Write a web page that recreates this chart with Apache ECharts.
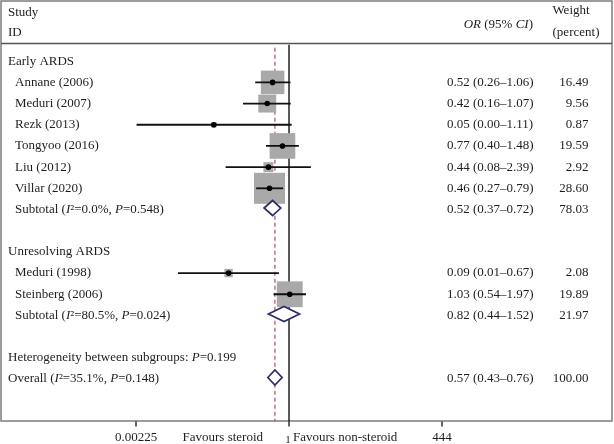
<!DOCTYPE html>
<html><head><meta charset="utf-8">
<script src="https://cdn.jsdelivr.net/npm/echarts@6/dist/echarts.min.js"></script>
<style>html,body{margin:0;padding:0;background:#fff}#c{width:614px;height:444px}</style>
</head><body><div id="c"></div>
<script>
// ---------- data ----------
const rowLabels = [
  'Early ARDS', 'Annane (2006)', 'Meduri (2007)', 'Rezk (2013)', 'Tongyoo (2016)', 'Liu (2012)', 'Villar (2020)',
  'Subtotal ({i|I}²=0.0%, {i|P}=0.548)', '',
  'Unresolving ARDS', 'Meduri (1998)', 'Steinberg (2006)',
  'Subtotal ({i|I}²=80.5%, {i|P}=0.024)', '',
  'Heterogeneity between subgroups: {i|P}=0.199', 'Overall ({i|I}²=35.1%, {i|P}=0.148)'
];
const rowIndent = [0, 1, 1, 1, 1, 1, 1, 1, 0, 0, 1, 1, 1, 0, 0, 0];

const studyRows   = [1, 2, 3, 4, 5, 6, 10, 11];
const studyOR     = [0.52, 0.42, 0.05, 0.77, 0.44, 0.46, 0.09, 1.03];
const studyLow    = [0.26, 0.16, 0.0023, 0.40, 0.08, 0.27, 0.012, 0.54];
const studyHigh   = [1.06, 1.07, 1.11, 1.48, 2.39, 0.79, 0.67, 1.97];
const studyWeight = [16.49, 9.56, 0.87, 19.59, 2.92, 28.60, 2.08, 19.89];

const poolRows   = [7, 12, 15];
const poolOR     = [0.52, 0.82, 0.57];
const poolLow    = [0.37, 0.44, 0.43];
const poolHigh   = [0.72, 1.52, 0.76];
const poolWeight = [78.03, 21.97, 100.00];

const overallOR = 0.57;
const axisTickValues = [0.00225, 1, 444];
const axisTickLabels = ['0.00225', '1', '444'];

// ---------- helpers ----------
const FAM = '"Liberation Serif","Times New Roman",serif';
const F13 = '13px ' + FAM;
const F13I = 'italic 13px ' + FAM;
const TXT = '#1e1e1e';
function text(x, y, s, align, font) {
  return { type: 'text', silent: true, style: {
    x: x, y: y, text: s, font: font || F13, fill: TXT,
    align: align || 'left', verticalAlign: 'middle',
    textAlign: align || 'left', textVerticalAlign: 'middle',
    rich: { i: { font: F13I, fill: TXT } }
  } };
}
const f2 = v => v.toFixed(2);
const ciText = (o, l, h) => f2(o) + ' (' + f2(l) + '–' + f2(h) + ')';

const chart = echarts.init(document.getElementById('c'), null, { renderer: 'canvas' });

const option = {
  animation: false,
  backgroundColor: '#fff',
  grid: { left: 136, right: 172, top: 40, bottom: 22.6 },
  xAxis: { type: 'log', logBase: 10, min: 0.00225, max: 444, show: false },
  yAxis: { type: 'value', inverse: true, min: -1, max: 17, show: false },
  graphic: [
    { type: 'rect', silent: true, shape: { x: 1, y: 1, width: 611, height: 420 },
      style: { fill: 'none', stroke: '#7c7c7c', lineWidth: 1.5 } },
    { type: 'line', silent: true, shape: { x1: 1, y1: 43.5, x2: 612, y2: 43.5 },
      style: { stroke: '#555', lineWidth: 1.5 } },
    text(8, 13, 'Study'),
    text(8, 33, 'ID'),
    text(533, 25, '{i|OR} (95% {i|CI})', 'right'),
    text(571, 11, 'Weight', 'center'),
    text(576, 33, '(percent)', 'center')
  ],
  series: [
    // reference lines + axis ticks/labels
    {
      type: 'custom', clip: false, z: 1,
      data: [[1, 0]],
      renderItem: function (params, api) {
        const yTop = api.coord([1, -0.78])[1];
        const yBot = api.coord([1, 17])[1];
        const x1 = api.coord([1, 0])[0];
        const xo = api.coord([overallOR, 0])[0];
        const ch = [
          { type: 'line', shape: { x1: x1, y1: yTop, x2: x1, y2: yBot }, style: { stroke: '#111', lineWidth: 1.4 } },
          { type: 'line', shape: { x1: xo, y1: yTop + 3, x2: xo, y2: yBot }, style: { stroke: '#b24a6c', lineWidth: 1.2, lineDash: [4, 3] } }
        ];
        axisTickValues.forEach(function (v, i) {
          const x = api.coord([v, 0])[0];
          ch.push({ type: 'line', shape: { x1: x, y1: yBot, x2: x, y2: yBot + 5 }, style: { stroke: '#111', lineWidth: 1.3 } });
          if (v === 1) ch.push(text(x - 1, yBot + 19, axisTickLabels[i], 'center', '11px ' + FAM));
          else ch.push(text(x, yBot + 16, axisTickLabels[i], 'center'));
        });
        ch.push(text(x1 - 26, yBot + 16, 'Favours steroid', 'right'));
        ch.push(text(x1 + 4, yBot + 16, 'Favours non-steroid', 'left'));
        return { type: 'group', children: ch };
      }
    },
    // study boxes + CIs
    {
      type: 'custom', clip: false, z: 2,
      data: studyRows.map((r, i) => [studyOR[i], r, studyLow[i], studyHigh[i], studyWeight[i]]),
      encode: { x: [0, 2, 3], y: 1 },
      renderItem: function (params, api) {
        const p = api.coord([api.value(0), api.value(1)]);
        const lo = api.coord([api.value(2), api.value(1)]);
        const hi = api.coord([api.value(3), api.value(1)]);
        const s = 5.8 * Math.sqrt(api.value(4));
        return { type: 'group', children: [
          { type: 'rect', shape: { x: p[0] - s / 2, y: p[1] - s / 2, width: s, height: s }, style: { fill: '#a9a9a9' } },
          { type: 'line', shape: { x1: lo[0], y1: lo[1], x2: hi[0], y2: hi[1] }, style: { stroke: '#111', lineWidth: 1.8 } },
          { type: 'circle', shape: { cx: p[0], cy: p[1], r: 2.8 }, style: { fill: '#000' } }
        ] };
      }
    },
    // pooled diamonds
    {
      type: 'custom', clip: false, z: 3,
      data: poolRows.map((r, i) => [poolOR[i], r, poolLow[i], poolHigh[i]]),
      encode: { x: [0, 2, 3], y: 1 },
      renderItem: function (params, api) {
        const p = api.coord([api.value(0), api.value(1)]);
        const lo = api.coord([api.value(2), api.value(1)]);
        const hi = api.coord([api.value(3), api.value(1)]);
        const h = 7.5, y = p[1] - 1.5;
        return { type: 'polygon', shape: { points: [[lo[0], y], [p[0], y - h], [hi[0], y], [p[0], y + h]] },
          style: { fill: '#fff', stroke: '#2c2c6c', lineWidth: 1.7 } };
      }
    },
    // text columns
    {
      type: 'custom', clip: false, z: 4,
      data: rowLabels.map((l, i) => [1, i]),
      encode: { x: 0, y: 1 },
      renderItem: function (params, api) {
        const i = params.dataIndex;
        const y = api.coord([1, i])[1];
        const ch = [];
        if (rowLabels[i]) ch.push(text(rowIndent[i] ? 15 : 8, y, rowLabels[i]));
        const si = studyRows.indexOf(i);
        const pi = poolRows.indexOf(i);
        if (si >= 0) {
          ch.push(text(447, y, ciText(studyOR[si], studyLow[si], studyHigh[si])));
          ch.push(text(588.5, y, f2(studyWeight[si]), 'right'));
        } else if (pi >= 0) {
          ch.push(text(447, y, ciText(poolOR[pi], poolLow[pi], poolHigh[pi])));
          ch.push(text(588.5, y, f2(poolWeight[pi]), 'right'));
        }
        return { type: 'group', children: ch };
      }
    }
  ]
};
chart.setOption(option);
</script>
</body></html>
